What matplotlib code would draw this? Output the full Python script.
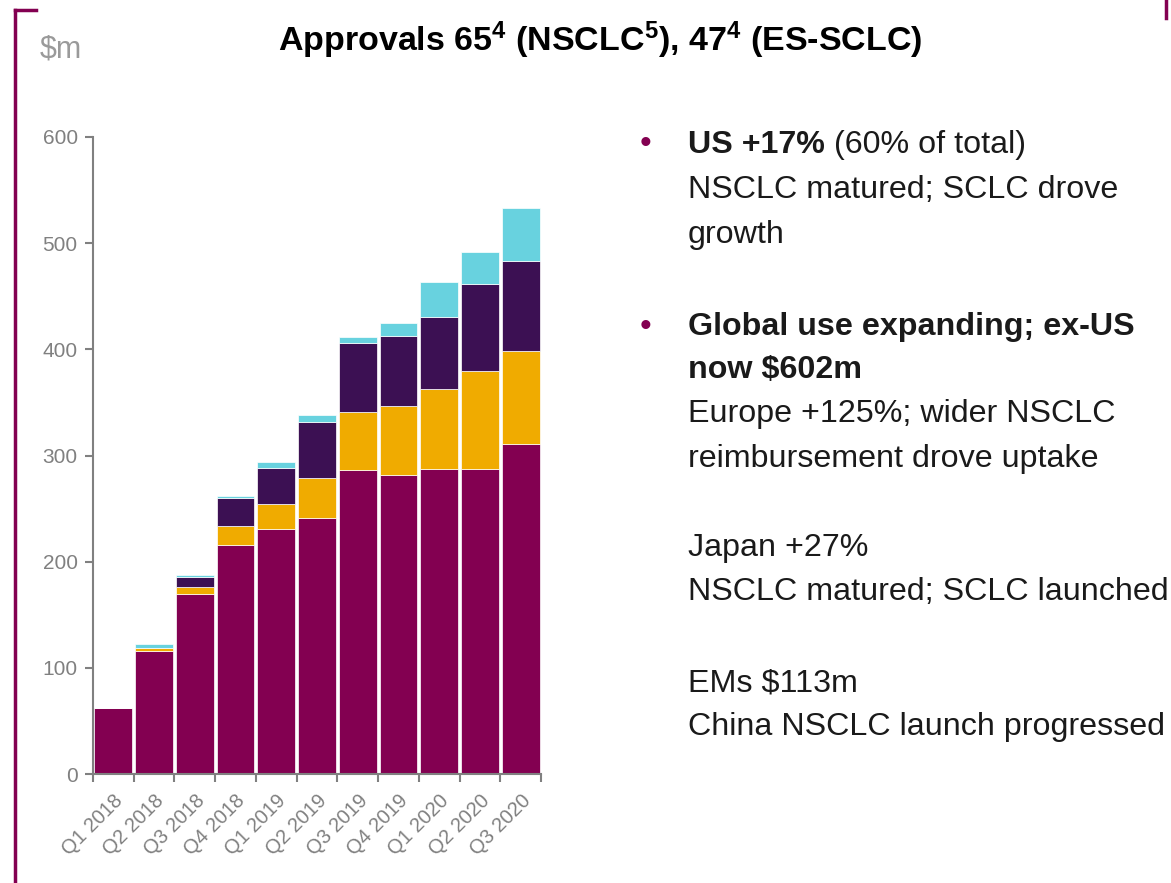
import numpy as np
import matplotlib
matplotlib.use("Agg")
import matplotlib.pyplot as plt
from matplotlib.lines import Line2D

# quarterly sales, $m
quarters = ["Q1 2018", "Q2 2018", "Q3 2018", "Q4 2018", "Q1 2019", "Q2 2019",
            "Q3 2019", "Q4 2019", "Q1 2020", "Q2 2020", "Q3 2020"]
us = [62, 116, 170, 216, 231, 241, 286, 282, 287, 287, 311]
europe = [0, 3, 6, 18, 23, 38, 55, 65, 76, 93, 87]
japan = [0, 0, 10, 26, 34, 53, 65, 66, 67, 82, 85]
other = [0, 3, 1, 2, 6, 6, 6, 12, 33, 30, 50]

series = [us, europe, japan, other]
colors = ["#830051", "#F0AB00", "#3C1053", "#68D2DF"]

yticks = [0, 100, 200, 300, 400, 500, 600]

plt.rcParams["font.family"] = ["Liberation Sans", "DejaVu Sans"]
plt.rcParams["mathtext.fontset"] = "custom"
plt.rcParams["mathtext.rm"] = "Liberation Sans:bold"
plt.rcParams["mathtext.it"] = "Liberation Sans:bold"
plt.rcParams["mathtext.bf"] = "Liberation Sans:bold"

W, H = 1171, 883
fig = plt.figure(figsize=(W / 100, H / 100), dpi=100)

# axes placed by pixel box: left 93, right 541, top 137, bottom 774
ax = fig.add_axes([93 / W, 1 - 774 / H, (541 - 93) / W, (774 - 137) / H])

x = np.arange(len(quarters))
bottom = np.zeros(len(quarters))
for vals, col in zip(series, colors):
    vals = np.array(vals, dtype=float)
    ax.bar(x, vals, bottom=bottom, width=0.93, color=col,
           edgecolor="white", linewidth=0.5)
    bottom += vals

grey = "#808080"
ax.set_xlim(-0.5, len(quarters) - 0.5)
ax.set_ylim(0, 600)
ax.set_yticks(yticks)
ax.spines["top"].set_visible(False)
ax.spines["right"].set_visible(False)
for s in ("left", "bottom"):
    ax.spines[s].set_color(grey)
    ax.spines[s].set_linewidth(1.5)

ax.tick_params(axis="y", colors=grey, labelsize=15, length=6, width=1.5, pad=5)
ax.set_xticks(x)
ax.set_xticklabels(quarters, rotation=45, ha="right", rotation_mode="anchor")
ax.tick_params(axis="x", which="major", length=0, colors=grey, labelsize=14.5, pad=12)
ax.set_xticks(np.arange(-0.5, len(quarters), 1.0), minor=True)
ax.tick_params(axis="x", which="minor", length=6, width=1.5, color=grey)

# frame decoration
maroon = "#830051"
fig.add_artist(Line2D([15 / W, 15 / W], [1 - 10 / H, 0], color=maroon, lw=2.5))
fig.add_artist(Line2D([15 / W, 36 / W], [1 - 10 / H, 1 - 10 / H], color=maroon, lw=2.5))
fig.add_artist(Line2D([1166 / W, 1166 / W], [1, 1 - 18 / H], color=maroon, lw=2.5))

fig.text(40 / W, 1 - 50 / H, "$m", color="#9a9a9a", fontsize=22, va="center", ha="left")

fig.text(600 / W, 1 - 40 / H,
         "Approvals 65$^{4}$ (NSCLC$^{5}$), 47$^{4}$ (ES-SCLC)",
         fontsize=24.5, fontweight="bold", ha="center", va="center", color="black")

# commentary on the right
tx = 688 / W
fs = 23.2
ink = "#1a1a1a"
lines = [
    (145, [("US +17%", "bold"), (" (60% of total)", "normal")]),
    (190, [("NSCLC matured; SCLC drove", "normal")]),
    (235, [("growth", "normal")]),
    (327, [("Global use expanding; ex-US", "bold")]),
    (370, [("now $602m", "bold")]),
    (414, [("Europe +125%; wider NSCLC", "normal")]),
    (459, [("reimbursement drove uptake", "normal")]),
    (548, [("Japan +27%", "normal")]),
    (592, [("NSCLC matured; SCLC launched", "normal")]),
    (684, [("EMs $113m", "normal")]),
    (727, [("China NSCLC launch progressed", "normal")]),
]
fig.canvas.draw()
renderer = fig.canvas.get_renderer()
for ypix, parts in lines:
    xpos = tx
    for txt, wt in parts:
        t = fig.text(xpos, 1 - ypix / H, txt, fontsize=fs, fontweight=wt,
                     color=ink, ha="left", va="center")
        bb = t.get_window_extent(renderer=renderer)
        xpos += bb.width / W

for ypix in (145, 327):
    fig.text(640 / W, 1 - ypix / H, "•", fontsize=24, color=maroon,
             ha="left", va="center")

fig.savefig("out.png", dpi=100)
